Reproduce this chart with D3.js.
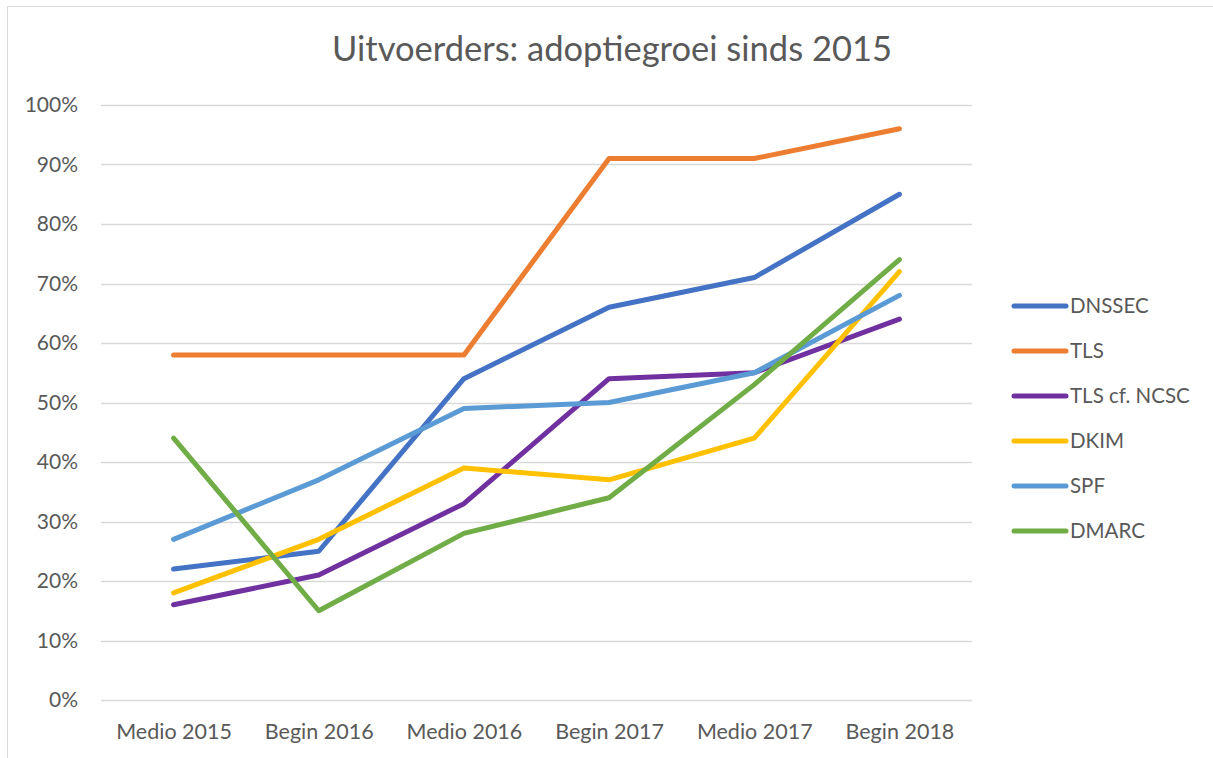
<!DOCTYPE html>
<html>
<head>
<meta charset="utf-8">
<script src="https://cdn.jsdelivr.net/npm/d3@7"></script>
<style>
  body { margin: 0; background: #fff; }
  svg { display: block; font-family: Lato, "Open Sans", sans-serif; }
</style>
</head>
<body>
<div id="chart"></div>
<script>
var categories = ["Medio 2015", "Begin 2016", "Medio 2016", "Begin 2017", "Medio 2017", "Begin 2018"]
var seriesNames = ["DNSSEC", "TLS", "TLS cf. NCSC", "DKIM", "SPF", "DMARC"]
var dnssec = [22, 25, 54, 66, 71, 85]
var tls = [58, 58, 58, 91, 91, 96]
var tlsNcsc = [16, 21, 33, 54, 55, 64]
var dkim = [18, 27, 39, 37, 44, 72]
var spf = [27, 37, 49, 50, 55, 68]
var dmarc = [44, 15, 28, 34, 53, 74]
var yTicks = [0, 10, 20, 30, 40, 50, 60, 70, 80, 90, 100]
var colors = ["#4472C4", "#ED7D31", "#7030A0", "#FFC000", "#5B9BD5", "#70AD47"]

var seriesValues = [dnssec, tls, tlsNcsc, dkim, spf, dmarc]
var series = seriesNames.map(function(name, i) {
    return { name: name, values: seriesValues[i], color: colors[i] }
})

var svgWidth = 1213
var svgHeight = 758
var margin = { top: 105, right: 241, bottom: 58, left: 101 }
var width = svgWidth - margin.left - margin.right
var height = svgHeight - margin.top - margin.bottom

var svg = d3.select("#chart").append("svg")
    .attr("width", svgWidth)
    .attr("height", svgHeight)

// chart frame
svg.append("rect")
    .attr("x", 7.5).attr("y", 6.5)
    .attr("width", 1210).attr("height", 760)
    .attr("fill", "none")
    .attr("stroke", "#d9d9d9")
    .attr("stroke-width", 1)

svg.append("text")
    .attr("x", 612).attr("y", 61)
    .attr("text-anchor", "middle")
    .style("font-size", "34.5px")
    .style("fill", "#595959")
    .text("Uitvoerders: adoptiegroei sinds 2015")

var chart = svg.append("g")
    .attr("transform", "translate(" + margin.left + "," + margin.top + ")")

var x = d3.scalePoint()
    .domain(categories)
    .range([0, width])
    .padding(0.5)

var y = d3.scaleLinear()
    .domain([0, 100])
    .range([height, 0])

// gridlines
chart.append("g")
    .selectAll("line").data(yTicks)
    .enter().append("line")
    .attr("x1", 0).attr("x2", width)
    .attr("y1", function(d) { return Math.round(y(d)) + 0.5 })
    .attr("y2", function(d) { return Math.round(y(d)) + 0.5 })
    .attr("stroke", "#d9d9d9")
    .attr("stroke-width", 1.5)

var yAxis = d3.axisLeft(y).tickValues(yTicks)
    .tickFormat(function(d) { return d + "%" })
    .tickSize(0).tickPadding(23)

chart.append("g")
    .attr("class", "axis y")
    .call(function(g) { styleAxis(g, yAxis, "21px") })

var xAxis = d3.axisBottom(x).tickSize(0).tickPadding(24)

chart.append("g")
    .attr("class", "axis x")
    .attr("transform", "translate(0," + height + ")")
    .call(function(g) { styleAxis(g, xAxis, "21.5px") })

var line = d3.line()
    .x(function(d, i) { return x(categories[i]) })
    .y(function(d) { return y(d) })

chart.selectAll("path.series").data(series)
    .enter().append("path")
    .attr("class", "series")
    .attr("d", function(d) { return line(d.values) })
    .attr("fill", "none")
    .attr("stroke", function(d) { return d.color })
    .attr("stroke-width", 5)
    .attr("stroke-linecap", "round")
    .attr("stroke-linejoin", "round")

// legend
var legend = svg.append("g")
    .attr("transform", "translate(1012,306)")

var items = legend.selectAll("g").data(series)
    .enter().append("g")
    .attr("transform", function(d, i) { return "translate(0," + (i * 45) + ")" })

items.append("line")
    .attr("x1", 2).attr("x2", 54)
    .attr("y1", 0).attr("y2", 0)
    .attr("stroke", function(d) { return d.color })
    .attr("stroke-width", 5)
    .attr("stroke-linecap", "round")

items.append("text")
    .attr("x", 58).attr("y", 0)
    .attr("dy", "0.35em")
    .style("font-size", "20.5px")
    .style("fill", "#595959")
    .text(function(d) { return d.name })

function styleAxis(g, axis, size) {
    g.call(axis)
    g.select(".domain").remove()
    g.selectAll("text")
        .style("font-size", size)
        .style("font-family", "Lato, 'Open Sans', sans-serif")
        .style("fill", "#595959")
}
</script>
</body>
</html>
